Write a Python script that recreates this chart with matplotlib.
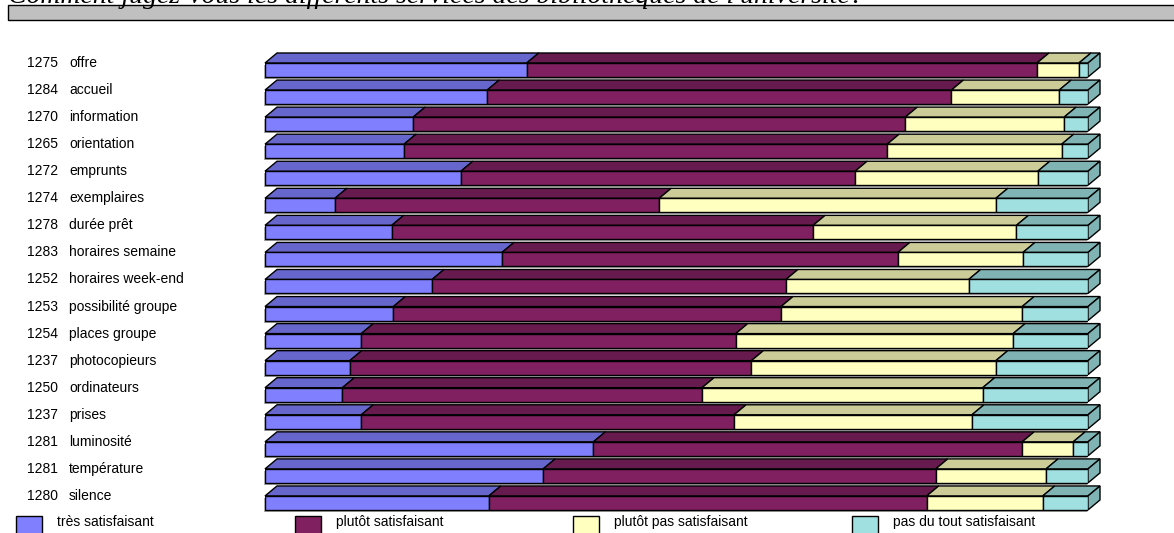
import matplotlib
matplotlib.use('Agg')
from matplotlib import pyplot as plt
from matplotlib.patches import Polygon, Rectangle

plt.rcParams['font.family'] = ['Liberation Sans', 'DejaVu Sans']

question = "Comment jugez-vous les différents services des bibliothèques de l'université?"

services = ['offre', 'accueil', 'information', 'orientation', 'emprunts', 'exemplaires',
            'durée prêt', 'horaires semaine', 'horaires week-end', 'possibilité groupe',
            'places groupe', 'photocopieurs', 'ordinateurs', 'prises', 'luminosité',
            'température', 'silence']
effectifs = [1275, 1284, 1270, 1265, 1272, 1274, 1278, 1283, 1252, 1253,
             1254, 1237, 1250, 1237, 1281, 1281, 1280]

# pourcentages par modalité
tres_satisf = [31.8, 27.0, 18.0, 16.9, 23.8, 8.5, 15.4, 28.8, 20.3, 15.6,
               11.7, 10.3, 9.4, 11.7, 39.9, 33.8, 27.2]
plutot_satisf = [62.0, 56.4, 59.8, 58.7, 47.9, 39.4, 51.2, 48.1, 43.0, 47.1,
                 45.5, 48.8, 43.7, 45.3, 52.1, 47.7, 53.2]
plutot_pas = [5.1, 13.1, 19.3, 21.2, 22.2, 40.9, 24.7, 15.2, 22.2, 29.3,
              33.7, 29.7, 34.1, 28.9, 6.2, 13.4, 14.1]
pas_du_tout = [1.1, 3.5, 2.9, 3.2, 6.1, 11.2, 8.7, 7.9, 14.5, 8.0,
               9.1, 11.2, 12.8, 14.1, 1.8, 5.1, 5.5]

modalites = ['très satisfaisant', 'plutôt satisfaisant', 'plutôt pas satisfaisant',
             'pas du tout satisfaisant']
series = [tres_satisf, plutot_satisf, plutot_pas, pas_du_tout]
face_colors = ['#8080FF', '#802060', '#FFFFC0', '#A0E0E0']
top_colors = ['#6666CC', '#661A4D', '#CCCC99', '#80B3B3']

W, H = 1174, 533
fig = plt.figure(figsize=(W / 100, H / 100), dpi=100)


def fx(px):
    return px / W


def fy(py):
    return 1 - py / H


# zone du graphique (en pixels)
x0, x1 = 265, 1088
row0, pitch = 70, 27.06
y_top = row0 - 0.5 * pitch
y_bot = row0 + (len(services) - 0.5) * pitch
ax = fig.add_axes([fx(x0), fy(y_bot), fx(x1) - fx(x0), (y_bot - y_top) / H])
ax.set_xlim(0, 100)
ax.set_ylim(len(services) - 0.5, -0.5)
ax.axis('off')

ux = 100 / (x1 - x0)   # unités par pixel
uy = 1 / pitch
h = 14 * uy
dx, dy = 12 * ux, 10 * uy

for i in range(len(services)):
    # ombre
    ax.add_patch(Rectangle((-1.5 * ux, i - h / 2 + 2 * uy), 100, h, facecolor='#A8A8A8',
                           edgecolor='none', zorder=1, clip_on=False))
    left = 0
    for j, vals in enumerate(series):
        w = vals[i]
        ax.barh(i, w, left=left, height=h, color=face_colors[j], edgecolor='black',
                linewidth=1, zorder=3)
        top = i - h / 2
        ax.add_patch(Polygon([(left, top), (left + w, top), (left + w + dx, top - dy),
                              (left + dx, top - dy)], closed=True, facecolor=top_colors[j],
                             edgecolor='black', linewidth=1, zorder=2, clip_on=False))
        left += w
    ax.add_patch(Polygon([(left, i - h / 2), (left + dx, i - h / 2 - dy),
                          (left + dx, i + h / 2 - dy), (left, i + h / 2)], closed=True,
                         facecolor=top_colors[-1], edgecolor='black', linewidth=1,
                         zorder=2, clip_on=False))
    yc = fy(row0 + i * pitch - 7)
    fig.text(fx(27), yc, str(effectifs[i]), fontsize=10, va='center', ha='left')
    fig.text(fx(69), yc, services[i], fontsize=10, va='center', ha='left')

# titre (coupé en haut comme dans l'original) et bandeau gris
fig.text(fx(8), fy(3), question, fontsize=20, style='italic', fontweight='normal',
         family=['Liberation Serif', 'DejaVu Serif'], va='baseline', ha='left')
fig.patches.append(Rectangle((fx(8), fy(20)), fx(1180) - fx(8), fy(5) - fy(20),
                             transform=fig.transFigure, facecolor='#C0C0C0',
                             edgecolor='black', linewidth=1))

# légende
leg_x = [16, 295, 573, 852]
for j, lab in enumerate(modalites):
    fig.patches.append(Rectangle((fx(leg_x[j]), fy(545)), 26 / W, 29 / H,
                                 transform=fig.transFigure, facecolor=face_colors[j],
                                 edgecolor='black', linewidth=1))
    fig.text(fx(leg_x[j] + 41), fy(522), lab, fontsize=10, va='center', ha='left')

plt.savefig('out.png', dpi=100)
